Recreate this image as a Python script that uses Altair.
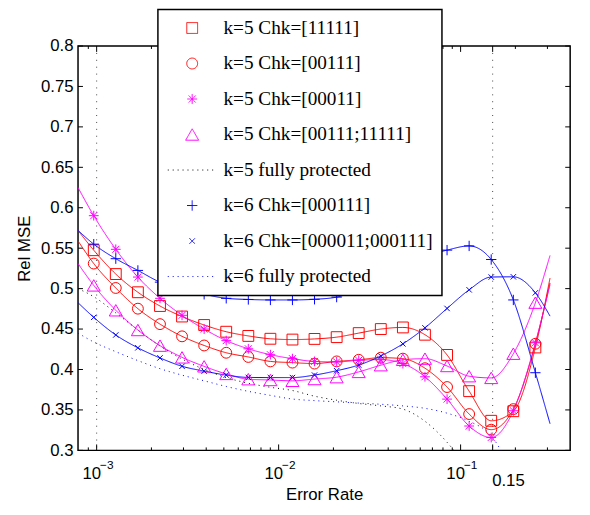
import altair as alt
import pandas as pd

# ---------------- data ----------------
X_PTS = [0.000964, 0.001274, 0.001685, 0.002229, 0.002946, 0.003897, 0.005153,
         0.006815, 0.009011, 0.01191, 0.01575, 0.02084, 0.02755, 0.03643,
         0.04817, 0.06370, 0.08425, 0.1114, 0.1473, 0.1949, 0.2576]
X_LEFT = 0.00079
X_RIGHT = 0.31

SERIES = ["k=5 Chk=[11111]", "k=5 Chk=[00111]", "k=5 Chk=[00011]",
          "k=5 Chk=[00111;11111]", "k=5 fully protected", "k=6 Chk=[000111]",
          "k=6 Chk=[000011;000111]", "k=6 fully protected"]

SQ = [0.5475, 0.518, 0.4955, 0.4785, 0.4655, 0.455, 0.4467, 0.4415, 0.438, 0.437,
      0.4378, 0.440, 0.445, 0.450, 0.452, 0.443, 0.418, 0.3732, 0.3366, 0.3484, 0.4272]
SQ_ENDS = [0.572, 0.513]
CI = [0.531, 0.5008, 0.4752, 0.4561, 0.441, 0.4297, 0.4207, 0.4155, 0.410, 0.4085,
      0.4073, 0.410, 0.412, 0.4146, 0.4134, 0.4016, 0.3783, 0.3449, 0.3256, 0.351, 0.4318]
CI_ENDS = [0.559, 0.507]
AST = [0.5902, 0.5486, 0.5143, 0.488, 0.467, 0.450, 0.4357, 0.4256, 0.4183, 0.4134,
       0.410, 0.4094, 0.4114, 0.4122, 0.4073, 0.391, 0.3634, 0.3301, 0.3159, 0.349, 0.433]
AST_ENDS = [0.625, 0.505]
TRI = [0.504, 0.4732, 0.4488, 0.4295, 0.415, 0.4039, 0.3945, 0.388, 0.387, 0.386,
       0.3882, 0.3905, 0.397, 0.4053, 0.412, 0.4134, 0.4043, 0.3917, 0.3896, 0.4195, 0.4826]
TRI_ENDS = [0.531, 0.541]
PLUS = [0.555, 0.537, 0.5225, 0.508, 0.499, 0.493, 0.488, 0.4866, 0.486, 0.486,
        0.4868, 0.4895, 0.499, 0.512, 0.527, 0.540, 0.5476, 0.5528, 0.536, 0.486, 0.396]
PLUS_ENDS = [0.572, 0.333]
XM = [0.4645, 0.4427, 0.4268, 0.4143, 0.404, 0.398, 0.3931, 0.3902, 0.390, 0.390,
      0.3931, 0.3985, 0.4055, 0.4167, 0.4317, 0.4515, 0.4755, 0.4985, 0.5143, 0.5146, 0.4948]
XM_ENDS = [0.4826, 0.466]

# fully protected curves (no markers): value at X_LEFT then at X_PTS[0..]
K5_FULL = [0.50, 0.49, 0.47, 0.449, 0.429, 0.413, 0.400, 0.390, 0.383, 0.378, 0.374,
           0.367, 0.362, 0.358, 0.355, 0.351, 0.336, 0.31, 0.275]
K6_FULL = [0.445, 0.434, 0.422, 0.411, 0.401, 0.393, 0.386, 0.379, 0.373, 0.368, 0.3635,
           0.3615, 0.360, 0.3585, 0.357, 0.355, 0.352, 0.346, 0.336, 0.318, 0.27]

Y_TICKS = [0.3, 0.35, 0.4, 0.45, 0.5, 0.55, 0.6, 0.65, 0.7, 0.75, 0.8]
X_MAJOR = [0.001, 0.01, 0.1, 0.15]
X_MINOR = [0.0009, 0.002, 0.003, 0.004, 0.005, 0.006, 0.007, 0.008, 0.009,
           0.02, 0.03, 0.04, 0.05, 0.06, 0.07, 0.08, 0.09, 0.2, 0.3]
X_LABEL_VALUES = [0.001, 0.01, 0.1]
X_LABEL_EXPS = ["\u22123", "\u22122", "\u22121"]
V_LINES = [0.001, 0.15]

# ---------------- styles ----------------
RED, MAG, BLUE, BLACK = "#FF0000", "#FF00FF", "#0000FF", "#000000"
COLORS = [RED, RED, MAG, MAG, BLACK, BLUE, BLUE, BLUE]
ASTERISK = "M-0.9,0H0.9M0,-0.9V0.9M-0.64,-0.64L0.64,0.64M-0.64,0.64L0.64,-0.64"
PLUSPATH = "M-0.95,0H0.95M0,-0.95V0.95"
XPATH = "M-0.5,-0.5L0.5,0.5M-0.5,0.5L0.5,-0.5"
TRIPATH = "M0,-1.05L1.2,1.05L-1.2,1.05Z"
DOTLINE = "M-4.5,0H4.5"
SHAPES = ["square", "circle", ASTERISK, TRIPATH, DOTLINE, PLUSPATH, XPATH, DOTLINE]
DASHES = [[1, 0], [1, 0], [1, 0], [1, 0], [1, 4], [1, 0], [1, 0], [1, 4]]
MSIZE = 121

# ---------------- tables ----------------
marker_sets = [(SERIES[0], SQ, SQ_ENDS), (SERIES[1], CI, CI_ENDS),
               (SERIES[2], AST, AST_ENDS), (SERIES[3], TRI, TRI_ENDS),
               (SERIES[5], PLUS, PLUS_ENDS), (SERIES[6], XM, XM_ENDS)]
line_rows, point_rows = [], []
for name, vals, ends in marker_sets:
    xs = [X_LEFT] + X_PTS + [X_RIGHT]
    ys = [ends[0]] + vals + [ends[1]]
    for i, (x, y) in enumerate(zip(xs, ys)):
        line_rows.append({"series": name, "x": x, "y": y, "idx": i})
    for x, y in zip(X_PTS, vals):
        point_rows.append({"series": name, "x": x, "y": y})
for name, vals in [(SERIES[4], K5_FULL), (SERIES[7], K6_FULL)]:
    xs = [X_LEFT] + X_PTS
    for i, (x, y) in enumerate(zip(xs, vals)):
        line_rows.append({"series": name, "x": x, "y": y, "idx": i})
lines_df = pd.DataFrame(line_rows)
points_df = pd.DataFrame(point_rows)

W, H = 499, 410

xscale = alt.Scale(type="log", domain=[X_LEFT, 0.4], nice=False)
yscale = alt.Scale(domain=[0.3, 0.8], nice=False)

XAX = alt.Axis(labels=False, ticks=False, domain=False, grid=False,
               title="Error Rate", titleFont="Liberation Sans", titleFontSize=17,
               titleFontWeight="normal", titleColor="black",
               titleX=W / 2, titleY=50.3, titleBaseline="alphabetic")
YAX = alt.Axis(values=Y_TICKS, format="~g", ticks=False, domain=False, grid=False,
               labelFont="Liberation Sans", labelFontSize=17, labelColor="black",
               labelPadding=5, title="Rel MSE", titleFont="Liberation Sans",
               titleFontSize=17, titleFontWeight="normal", titleColor="black",
               titleX=-49, titleY=H / 2, titleAngle=270, titleAlign="center",
               titleBaseline="alphabetic")

LEG = alt.Legend(title=None, orient="none", legendX=81, legendY=-37, padding=9,
                 rowPadding=15, fillColor="white", strokeColor="black",
                 labelFont="Liberation Serif", labelFontSize=19.5, labelColor="black",
                 labelLimit=400, symbolOffset=16, labelOffset=22, symbolStrokeWidth=1,
                 symbolSize=MSIZE)

color = alt.Color("series:N", scale=alt.Scale(domain=SERIES, range=COLORS), legend=LEG)
shape = alt.Shape("series:N", scale=alt.Scale(domain=SERIES, range=SHAPES), legend=LEG)
dash = alt.StrokeDash("series:N", scale=alt.Scale(domain=SERIES, range=DASHES), legend=LEG)

X = lambda f: alt.X(f, scale=xscale, axis=XAX)
Y = lambda f: alt.Y(f, scale=yscale, axis=YAX)

lines = alt.Chart(lines_df).mark_line(strokeWidth=1, clip=True, interpolate="monotone").encode(
    x=X("x:Q"), y=Y("y:Q"),
    color=color, strokeDash=dash, detail="series:N", order="idx:Q",
)

points = alt.Chart(points_df).mark_point(filled=False, strokeWidth=1, clip=True, opacity=1,
                                         size=MSIZE).encode(
    x=X("x:Q"), y=Y("y:Q"), color=color, shape=shape,
)

vlines = alt.Chart(pd.DataFrame({"v": V_LINES})).mark_rule(
    color="#444444", strokeWidth=1, strokeDash=[1, 6]).encode(x=X("v:Q"))

def yticks(x0, x1):
    return alt.Chart(pd.DataFrame({"v": Y_TICKS})).mark_rule(color="black", strokeWidth=1).encode(
        y=Y("v:Q"), x=alt.value(x0), x2=alt.value(x1))

def xticks(vals, y0, y1):
    return alt.Chart(pd.DataFrame({"v": vals})).mark_rule(color="black", strokeWidth=1).encode(
        x=X("v:Q"), y=alt.value(y0), y2=alt.value(y1))

ticks = [yticks(0, 5), yticks(W, W - 5),
         xticks(X_MAJOR, H, H - 6), xticks(X_MAJOR, 0, 6),
         xticks(X_MINOR, H, H - 3), xticks(X_MINOR, 0, 3)]

lab_df = pd.DataFrame({"v": X_LABEL_VALUES, "base": ["10"] * 3, "exp": X_LABEL_EXPS})
lab_base = alt.Chart(lab_df).mark_text(font="Liberation Sans", fontSize=17, align="center",
                                       baseline="alphabetic", dx=-5, color="black").encode(
    x=X("v:Q"), y=alt.value(H + 28.7), text="base:N")
lab_exp = alt.Chart(lab_df).mark_text(font="Liberation Sans", fontSize=12, align="left",
                                      baseline="alphabetic", dx=3.4, color="black").encode(
    x=X("v:Q"), y=alt.value(H + 18.7), text="exp:N")
lab_015 = alt.Chart(pd.DataFrame({"v": [0.15], "t": ["0.15"]})).mark_text(
    font="Liberation Sans", fontSize=17, align="center", baseline="alphabetic", dx=16,
    color="black").encode(x=X("v:Q"), y=alt.value(H + 36.3), text="t:N")

chart = alt.layer(vlines, *ticks, lines, points, lab_base, lab_exp, lab_015).properties(
    width=W, height=H,
    autosize=alt.AutoSizeParams(type="none"),
    padding={"left": 71, "top": 35, "right": 12, "bottom": 62},
).configure_view(stroke="black", strokeWidth=1.5).configure_legend(strokeWidth=1.5)

chart.save("out.html", embed_options={"renderer": "svg", "actions": False})
